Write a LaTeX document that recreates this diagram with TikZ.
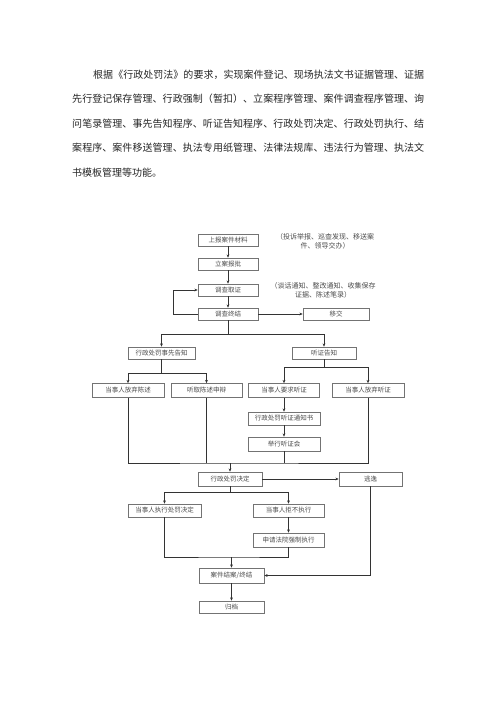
\documentclass[tikz,border=0pt]{standalone}
\usepackage{fontspec}
\newfontfamily\cjk{Noto Sans CJK SC}
\usetikzlibrary{arrows.meta}
\def\sprd#1{\ifx\relax#1\else#1\hskip0pt plus1fil\relax\expandafter\sprd\fi}
\tikzset{
  box/.style={draw=black!55, line width=0.7pt, fill=white, inner sep=0pt,
    font=\cjk\fontsize{6.5}{7}\selectfont, text=black!70},
  note/.style={inner sep=0pt, align=center,
    font=\cjk\fontsize{7}{9.5}\selectfont, text=black!70},
  para/.style={inner sep=0pt, anchor=west,
    font=\cjk\fontsize{10}{12}\selectfont, text=black!85},
  conn/.style={draw=black!80, line width=0.6pt},
  arr/.style={conn, -{Stealth[length=3.2pt,width=2.8pt]}}
}
\begin{document}
\begin{tikzpicture}[x=1pt,y=-1pt]
\useasboundingbox (0,0) rectangle (496,702);
\fill[white] (0,0) rectangle (496,702);

% paragraph
\node[para] (p1) at (93,74.5) {\hbox to 331pt{\sprd 根据《行政处罚法》的要求，实现案件登记、现场执法文书证据管理、证据\relax\unskip}};
\node[para] (p2) at (72,99) {\hbox to 352pt{\sprd 先行登记保存管理、行政强制（暂扣）、立案程序管理、案件调查程序管理、询\relax\unskip}};
\node[para] (p3) at (72,123.5) {\hbox to 352pt{\sprd 问笔录管理、事先告知程序、听证告知程序、行政处罚决定、行政处罚执行、结\relax\unskip}};
\node[para] (p4) at (72,148) {\hbox to 352pt{\sprd 案程序、案件移送管理、执法专用纸管理、法律法规库、违法行为管理、执法文\relax\unskip}};
\node[para] (p5) at (72,172.5) {书模板管理等功能。};

% boxes
\node[box, minimum width=60pt, minimum height=12pt] (A) at (228,240) {上报案件材料};
\node[box, minimum width=60pt, minimum height=12pt] (B) at (228,264) {立案报批};
\node[box, minimum width=60pt, minimum height=12pt] (C) at (228,290) {调查取证};
\node[box, minimum width=60pt, minimum height=12pt] (D) at (228,314) {调查终结};
\node[box, minimum width=66pt, minimum height=12pt] (E) at (336,314) {移交};

\node[note] (n1) at (325,241.5) {（投诉举报、巡查发现、移送案\\件、领导交办）};
\node[note] (n2) at (323,290.5) {（谈话通知、整改通知、收集保存\\证据、陈述笔录）};

\node[box, minimum width=67pt, minimum height=12pt] (F) at (161.5,353) {行政处罚事先告知};
\node[box, minimum width=64pt, minimum height=12pt] (G) at (324,353) {听证告知};

\node[box, minimum width=72pt, minimum height=14pt] (H) at (128,390.5) {当事人放弃陈述};
\node[box, minimum width=71pt, minimum height=14pt] (I) at (206.5,390.5) {听取陈述申辩};
\node[box, minimum width=71pt, minimum height=14pt] (J) at (284,390.5) {当事人要求听证};
\node[box, minimum width=72pt, minimum height=14pt] (K) at (368,390.5) {当事人放弃听证};

\node[box, minimum width=72pt, minimum height=13pt] (L) at (284,418.5) {行政处罚听证通知书};
\node[box, minimum width=72pt, minimum height=14pt] (M) at (284,444) {举行听证会};

\node[box, minimum width=64pt, minimum height=14pt] (N) at (230,479) {行政处罚决定};
\node[box, minimum width=63pt, minimum height=14pt] (O) at (370.5,479) {逃逸};

\node[box, minimum width=73pt, minimum height=13pt] (P) at (164.5,510.5) {当事人执行处罚决定};
\node[box, minimum width=71pt, minimum height=13pt] (Q) at (288.5,510.5) {当事人拒不执行};
\node[box, minimum width=71pt, minimum height=14pt] (R) at (288.5,540) {申请法院强制执行};

\node[box, minimum width=65pt, minimum height=15pt] (S) at (231.5,575.5) {案件结案/终结};
\node[box, minimum width=65pt, minimum height=12pt] (T) at (231.5,607) {归档};

% connectors
\draw[arr] (A) -- (B);
\draw[arr] (B) -- (C);
\draw[arr] (C) -- (D);
\draw[arr] (D) -- (E);
\draw[arr] (D.west) -- ++(-24,0) |- (C.west);

\coordinate (b1) at (228,334);
\draw[conn] (D.south) -- (b1);
\draw[arr] (b1) -| (F.north);
\draw[arr] (b1) -| (G.north);

\coordinate (b2) at (161.5,373);
\draw[conn] (F.south) -- (b2);
\draw[arr] (b2) -| (H.north);
\draw[arr] (b2) -| (I.north);

\coordinate (b3) at (324,367);
\draw[conn] (G.south) -- (b3);
\draw[arr] (b3) -| (J.north);
\draw[arr] (b3) -| (K.north);

\draw[arr] (J) -- (L);
\draw[arr] (L) -- (M);

\coordinate (b4) at (230,463);
\draw[conn] (H.south) |- (b4) -| (K.south);
\draw[conn] (I.south) -- (I.south |- b4);
\draw[conn] (M.south) -- (M.south |- b4);
\draw[arr] (b4) -- (N.north);

\draw[arr] (N) -- (O);

\coordinate (b5) at (230,492);
\draw[conn] (N.south) -- (b5);
\draw[arr] (b5) -| (P.north);
\draw[arr] (b5) -| (Q.north);
\draw[arr] (Q) -- (R);

\coordinate (b6) at (231.5,557);
\draw[conn] (P.south) |- (b6) -| (R.south);
\draw[arr] (b6) -- (S.north);

\draw[arr] (O.south) |- (S.east);
\draw[arr] (S) -- (T);
\end{tikzpicture}
\end{document}
